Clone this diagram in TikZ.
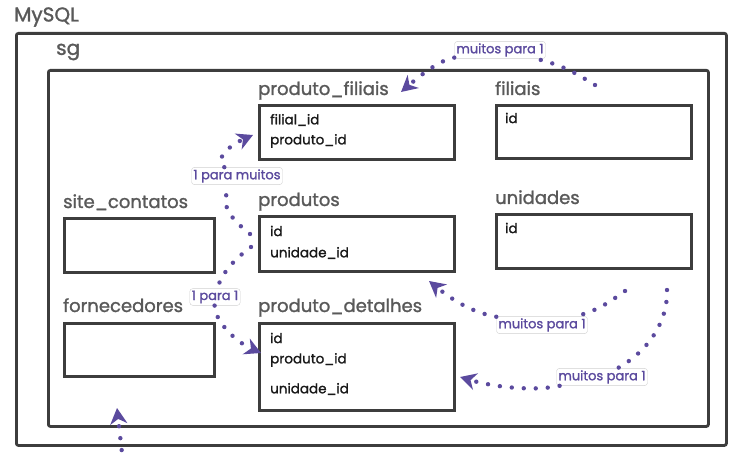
\documentclass[tikz,border=0pt]{standalone}
\usepackage{fontspec}
\setmainfont{Poppins}
\newfontfamily\diagfont{Poppins}[FakeBold=1.4]
\usetikzlibrary{arrows.meta}
\definecolor{boxgray}{HTML}{3D3D3D}
\definecolor{titlegray}{HTML}{595959}
\definecolor{relpurple}{HTML}{5B4A9E}
\definecolor{lblgray}{HTML}{D0D0D0}
\tikzset{
  frame/.style={draw=boxgray,line width=2.8pt,rounded corners=2pt,anchor=north west,inner sep=0pt},
  tblbox/.style={draw=boxgray,line width=2.8pt,anchor=north west,inner sep=0pt},
  grptitle/.style={anchor=west,text=titlegray,font=\diagfont\fontsize{20}{23}\selectfont,inner sep=0pt},
  tbltitle/.style={grptitle,anchor=base west,font=\diagfont\fontsize{18}{21}\selectfont},
  fieldtxt/.style={anchor=west,text=black!90,font=\diagfont\fontsize{13.5}{16}\selectfont,inner sep=0pt},
  rellabel/.style={draw=lblgray,fill=white,rounded corners=3pt,text=relpurple,font=\diagfont\fontsize{13}{15}\selectfont,inner sep=2pt},
  reldots/.style={relpurple,line width=4.4pt,line cap=round,dash pattern=on 0pt off 12pt},
  relarrow/.style={reldots,-{Stealth[length=16pt,width=17pt,inset=5pt]}},
}

\begin{document}
\begin{tikzpicture}[x=1pt,y=-1pt]
  \useasboundingbox (0,0) rectangle (744,454);
  \node[grptitle] (mysqlt) at (14,17) {MySQL};
  \node[frame,minimum width=710pt,minimum height=412pt] (mysql) at (15,32) {};
  \node[grptitle] (sgt) at (56,52) {sg};
  \node[frame,minimum width=660pt,minimum height=356pt] (sg) at (47,69) {};

  \node[tblbox,minimum width=195pt,minimum height=54pt] (pf) at (258,104) {};
  \node[tbltitle] (pft) at ([yshift=9pt]pf.north west) {produto\_filiais};
  \node[fieldtxt] (pf1) at (270,120) {filial\_id};
  \node[fieldtxt] (pf2) at (270,141) {produto\_id};

  \node[tblbox,minimum width=195pt,minimum height=53pt] (fil) at (495,104) {};
  \node[tbltitle] (filt) at ([yshift=9pt]fil.north west) {filiais};
  \node[fieldtxt] (fil1) at (505,118) {id};

  \node[tblbox,minimum width=150pt,minimum height=54pt] (sc) at (63,217) {};
  \node[tbltitle] (sct) at ([yshift=9pt]sc.north west) {site\_contatos};

  \node[tblbox,minimum width=195pt,minimum height=55pt] (prod) at (258,215) {};
  \node[tbltitle] (prodt) at ([yshift=9pt]prod.north west) {produtos};
  \node[fieldtxt] (prod1) at (270,231) {id};
  \node[fieldtxt] (prod2) at (270,253) {unidade\_id};

  \node[tblbox,minimum width=195pt,minimum height=54pt] (uni) at (495,213) {};
  \node[tbltitle] (unit) at ([yshift=9pt]uni.north west) {unidades};
  \node[fieldtxt] (uni1) at (505,228) {id};

  \node[tblbox,minimum width=150pt,minimum height=53pt] (forn) at (63,322) {};
  \node[tbltitle] (fornt) at ([yshift=10pt]forn.north west) {fornecedores};

  \node[tblbox,minimum width=195pt,minimum height=87pt] (pd) at (258,322) {};
  \node[tbltitle] (pdt) at ([yshift=10pt]pd.north west) {produto\_detalhes};
  \node[fieldtxt] (pd1) at (270,338) {id};
  \node[fieldtxt] (pd2) at (270,360) {produto\_id};
  \node[fieldtxt] (pd3) at (270,389) {unidade\_id};

  \node[rellabel] (l1) at (237,176) {1 para muitos};
  \node[rellabel] (l2) at (215,297) {1 para 1};
  \node[rellabel] (l3) at (500,50) {muitos para 1};
  \node[rellabel] (l4) at (542,325) {muitos para 1};
  \node[rellabel] (l5) at (602,377) {muitos para 1};
  \coordinate (s1) at (250,234);
  \coordinate (e1) at (253,135);
  \coordinate (s2) at (251,247);
  \coordinate (e2) at (261,353);
  \coordinate (s3) at (595,85);
  \coordinate (e3) at (401,92);
  \coordinate (s4) at (625,291);
  \coordinate (e4) at (429,281);
  \coordinate (s5) at (667,290);
  \coordinate (e5) at (460,377);
  \coordinate (s6) at (123,462);
  \coordinate (e6) at (117,408);

  \draw[reldots] (s1) .. controls (230,218) and (218,204) .. (l1);
  \draw[relarrow] (l1) .. controls (214,160) and (228,146) .. (e1);
  \draw[reldots] (s2) .. controls (236,258) and (222,272) .. (l2);
  \draw[relarrow] (l2) .. controls (214,318) and (232,340) .. (e2);
  \draw[reldots] (s3) .. controls (580,76) and (566,66) .. (l3);
  \draw[relarrow] (l3) .. controls (440,60) and (422,74) .. (e3);
  \draw[reldots] (s4) .. controls (612,300) and (600,310) .. (l4);
  \draw[relarrow] (l4) .. controls (470,312) and (450,298) .. (e4);
  \draw[reldots] (s5) .. controls (668,320) and (650,350) .. (l5);
  \draw[relarrow] (l5) .. controls (530,392) and (490,386) .. (e5);
  \draw[relarrow] (s6) -- (e6);
\end{tikzpicture}
\end{document}
